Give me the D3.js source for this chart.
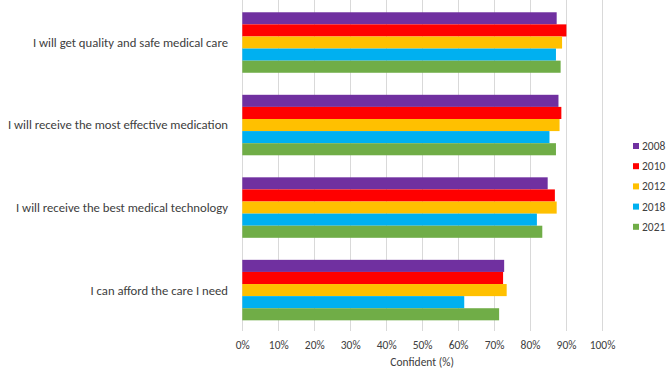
<!DOCTYPE html>
<html>
<head>
<meta charset="utf-8">
<script src="https://cdn.jsdelivr.net/npm/d3@7"></script>
<style>
  body { margin: 0; background: #fff; }
  svg { display: block; font-family: Calibri, Carlito, Lato, sans-serif; }
  .grid-line { stroke: #d9d9d9; stroke-width: 1; }
  .tick-label-text { fill: #404040; font-size: 11.5px; }
  .cat-label { fill: #404040; font-size: 12.7px; }
  .legend-text { fill: #404040; font-size: 11.5px; }
</style>
</head>
<body>
<div id="chart"></div>
<script>
const categories = [
  "I will get quality and safe medical care",
  "I will receive the most effective medication",
  "I will receive the best medical technology",
  "I can afford the care I need"
];
const seriesKeys = ["2008", "2010", "2012", "2018", "2021"];
const seriesColors = ["#7030a0", "#ff0000", "#ffc000", "#00b0f0", "#70ad47"];
// one row per series, values in category order
const values2008 = [87.4, 87.9, 84.9, 72.8];
const values2010 = [90.1, 88.7, 86.9, 72.5];
const values2012 = [88.9, 88.2, 87.4, 73.5];
const values2018 = [87.2, 85.4, 81.9, 61.7];
const values2021 = [88.5, 87.2, 83.4, 71.4];
const xTicks = [0, 10, 20, 30, 40, 50, 60, 70, 80, 90, 100];

const seriesValues = [values2008, values2010, values2012, values2018, values2021];

const width = 666;
const height = 371;
const margin = { top: 1.3, right: 64, bottom: 40, left: 242.3 };

const svg = d3.select("#chart").append("svg")
  .attr("width", width)
  .attr("height", height);

const x = d3.scaleLinear()
  .domain([0, 100])
  .range([margin.left, 602]);

const y = d3.scaleBand()
  .domain(categories)
  .range([margin.top, 331.3])
  .paddingInner(0.267)
  .paddingOuter(0.133);

const ySub = d3.scaleBand()
  .domain(seriesKeys)
  .range([0, y.bandwidth()]);

const color = d3.scaleOrdinal().domain(seriesKeys).range(seriesColors);

// grid
svg.append("g")
  .selectAll("line")
  .data(xTicks)
  .join("line")
  .attr("class", "grid-line")
  .attr("x1", (d) => Math.round(x(d)) + 0.5)
  .attr("x2", (d) => Math.round(x(d)) + 0.5)
  .attr("y1", 0)
  .attr("y2", 331);

// bars
const rows = [];
categories.forEach((c, i) => {
  seriesKeys.forEach((k, j) => rows.push({ cat: c, key: k, value: seriesValues[j][i] }));
});

svg.append("g")
  .selectAll("rect")
  .data(rows)
  .join("rect")
  .attr("x", x(0))
  .attr("y", (d) => y(d.cat) + ySub(d.key))
  .attr("width", (d) => x(d.value) - x(0))
  .attr("height", ySub.bandwidth())
  .attr("fill", (d) => color(d.key));

// x axis
svg.append("g")
  .attr("transform", `translate(0,331)`)
  .call(d3.axisBottom(x).tickValues(xTicks).tickSize(0).tickPadding(10)
    .tickFormat((d) => d + "%"))
  .call((g) => g.select(".domain").remove())
  .call((g) => g.selectAll(".tick text").attr("class", "tick-label-text")
    .attr("fill", null))
  .call((g) => g.attr("font-family", null).attr("font-size", null));

svg.append("text")
  .attr("class", "tick-label-text")
  .attr("x", (x(0) + x(100)) / 2)
  .attr("y", 366)
  .attr("text-anchor", "middle")
  .text("Confident (%)");

// category labels
svg.append("g")
  .selectAll("text")
  .data(categories)
  .join("text")
  .attr("class", "cat-label")
  .attr("x", 228)
  .attr("y", (d) => y(d) + y.bandwidth() / 2)
  .attr("dy", "0.35em")
  .attr("text-anchor", "end")
  .text((d) => d);

// legend
const legend = svg.append("g")
  .selectAll("g")
  .data(seriesKeys)
  .join("g")
  .attr("transform", (d, i) => `translate(633,${146 + i * 20.2})`);

legend.append("rect")
  .attr("x", 0)
  .attr("y", -3)
  .attr("width", 6)
  .attr("height", 6)
  .attr("fill", (d) => color(d));

legend.append("text")
  .attr("class", "legend-text")
  .attr("x", 9)
  .attr("dy", "0.35em")
  .text((d) => d);
</script>
</body>
</html>
